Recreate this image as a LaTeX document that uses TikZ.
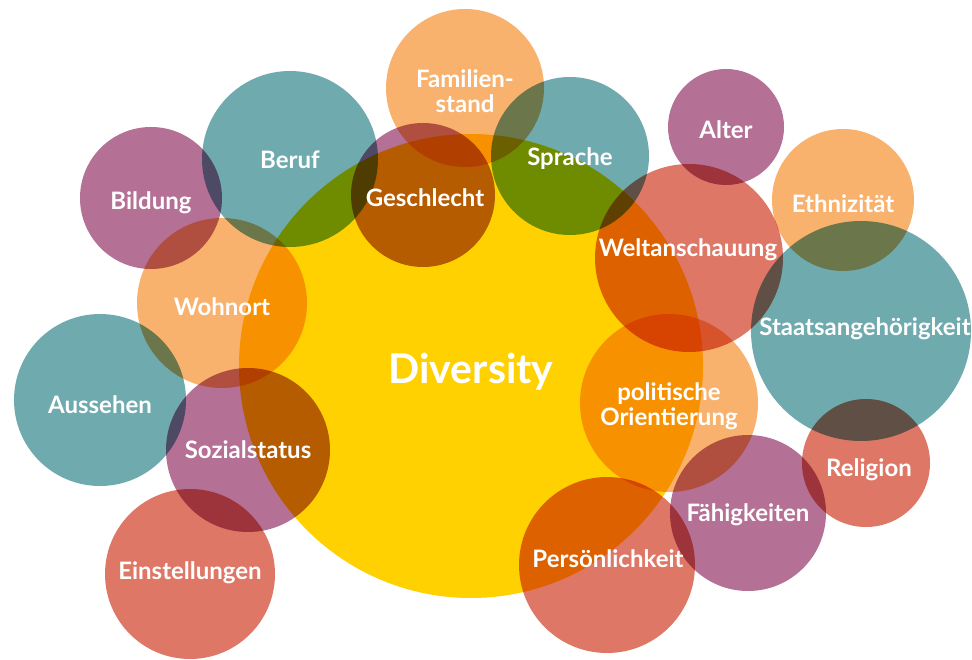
\documentclass[tikz,border=0pt]{standalone}
\usepackage{fontspec}
\setmainfont{Lato}
\definecolor{cyellow}{HTML}{FFD100}
\definecolor{cteal}{HTML}{6FAAAE}
\definecolor{cpurple}{HTML}{B57095}
\definecolor{corange}{HTML}{F8B26D}
\definecolor{csalmon}{HTML}{DE7766}
\tikzset{
  lbl/.style={text=white, font=\bfseries\fontsize{24}{25}\selectfont, inner sep=0pt, anchor=base, align=center},
  bigl/.style={text=white, font=\bfseries\fontsize{41}{44}\selectfont, inner sep=0pt, anchor=base},
}
\begin{document}
\begin{tikzpicture}[x=1pt,y=-1pt]
\useasboundingbox (0,0) rectangle (972,660);
\fill[white] (0,0) rectangle (972,660);
\begin{scope}[blend mode=multiply]
\fill[cyellow] (471,366) circle[radius=232];
\fill[corange] (465,88) circle[radius=79];
\fill[cteal] (570,156) circle[radius=79];
\fill[cpurple] (726,127) circle[radius=58];
\fill[corange] (843,200) circle[radius=71];
\fill[csalmon] (689,258) circle[radius=94];
\fill[cteal] (861,331) circle[radius=110];
\fill[corange] (669,403) circle[radius=89];
\fill[csalmon] (866,463) circle[radius=64];
\fill[cpurple] (748,513) circle[radius=78];
\fill[csalmon] (607,565) circle[radius=88];
\fill[cpurple] (423,195) circle[radius=72];
\fill[cteal] (290,159) circle[radius=88];
\fill[cpurple] (151,198) circle[radius=71];
\fill[corange] (222,303) circle[radius=85];
\fill[cteal] (100,400) circle[radius=86];
\fill[cpurple] (248,450) circle[radius=82];
\fill[csalmon] (190,574) circle[radius=85];
\end{scope}
\node[bigl] (div) at (471,383) {Diversity};
\node[lbl] (fam) at (465,113) {Familien-\\stand};
\node[lbl] (spr) at (570,166) {Sprache};
\node[lbl] (alt) at (726,139) {Alter};
\node[lbl] (eth) at (843,213) {Ethnizität};
\node[lbl] (wel) at (688,257) {Weltanschauung};
\node[lbl] (sta) at (865,335) {Staatsangehörigkeit};
\node[lbl] (pol) at (669,425) {politische\\Orientierung};
\node[lbl] (rel) at (869,476) {Religion};
\node[lbl] (fae) at (748,521) {Fähigkeiten};
\node[lbl] (per) at (608,567) {Persönlichkeit};
\node[lbl] (ges) at (425,207) {Geschlecht};
\node[lbl] (ber) at (290,169) {Beruf};
\node[lbl] (bil) at (151,210) {Bildung};
\node[lbl] (woh) at (222,316) {Wohnort};
\node[lbl] (aus) at (100,413) {Aussehen};
\node[lbl] (soz) at (248,458) {Sozialstatus};
\node[lbl] (ein) at (190,579) {Einstellungen};
\end{tikzpicture}
\end{document}
